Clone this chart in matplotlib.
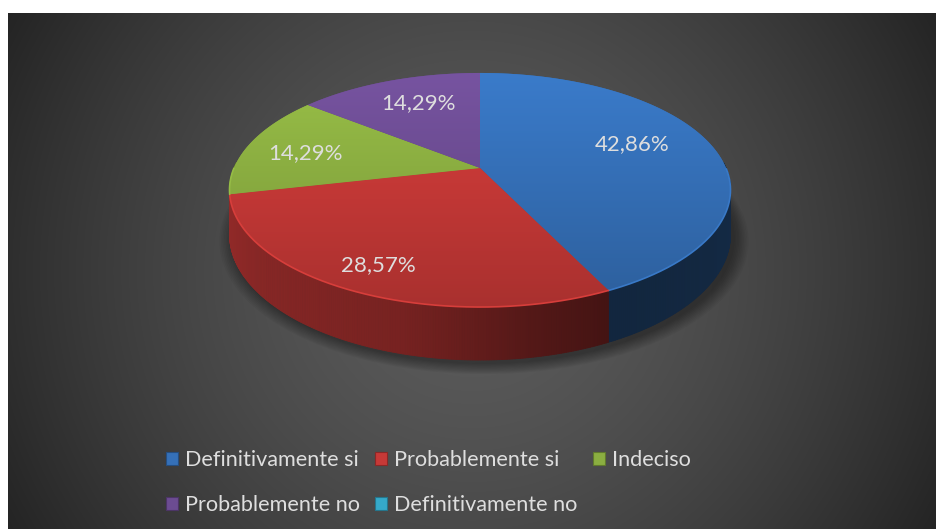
import numpy as np
import matplotlib
matplotlib.use("Agg")
import matplotlib.pyplot as plt
from matplotlib.patches import Polygon, Patch
from matplotlib.collections import PolyCollection
from matplotlib.font_manager import FontProperties

# ---------------- data ----------------
categories = ["Definitivamente si", "Probablemente si", "Indeciso",
              "Probablemente no", "Definitivamente no"]
percentages = [42.86, 28.57, 14.29, 14.29, 0.00]
colors = ["#3570b8", "#c73937", "#8bae41", "#6c4c92", "#35a9c9"]

# ---------------- layout / style ----------------
W, H = 937, 529
CX, CY = 480.0, 168.0          # projected pie centre
RX, RY = 246.0, 112.9          # radii
K = 0.188                      # perspective strength
DEPTH = 43.0                   # pie thickness
label_r = [0.68, 0.82, 0.74, 0.70, 0.7]
label_dtheta = [-6, 0, -2, 2, 0]
TEXT = "#dedede"

fig = plt.figure(figsize=(W / 100, H / 100), dpi=100, facecolor="white")
ax = fig.add_axes([0, 0, 1, 1])
ax.axis("off")

# background radial gradient
x0, x1, y0, y1 = 8, W, 13, H
xx, yy = np.meshgrid(np.arange(x0, x1) + 0.5, np.arange(y0, y1) + 0.5)
bcx, bcy = 472, 271
d = np.hypot(xx - bcx, yy - bcy) / np.hypot(x1 - bcx, y0 - bcy)
t = np.clip(d, 0, 1) ** 1.5
v = (92 - 56 * t) / 255
ax.imshow(np.dstack([v, v, v]), extent=(x0, x1, y1, y0), aspect="auto",
          interpolation="bilinear", zorder=0)


def proj(theta_deg, r=1.0, z=0.0):
    a = np.radians(theta_deg)
    x = r * np.sin(a)
    y = r * np.cos(a)
    s = 1.0 / (1.0 + K * y)
    return CX + RX * x * s, CY - RY * y * s + DEPTH * s * z


def rgb(c):
    return np.array(matplotlib.colors.to_rgb(c))


total = sum(percentages)
bounds = np.concatenate([[0], np.cumsum(percentages)]) / total * 360.0

# soft shadow
for i in range(10):
    th = np.linspace(0, 360, 361)
    px, py = proj(th, 1.0 + 0.006 * i, 1.0)
    ax.add_patch(Polygon(np.column_stack([px + 4, py + 4]), closed=True,
                         facecolor="black", edgecolor="none", alpha=0.04, zorder=1))

# walls
def wall_factor(th):
    return np.interp(th, [90, 154, 170, 195, 250, 280],
                     [0.38, 0.34, 0.42, 0.60, 0.72, 0.75])

quads, qcols, depths = [], [], []
for i, (a0, a1) in enumerate(zip(bounds[:-1], bounds[1:])):
    if a1 - a0 <= 0:
        continue
    n = max(2, int((a1 - a0) / 0.5))
    th = np.linspace(a0, a1, n + 1)
    base = rgb(colors[i])
    for ta, tb in zip(th[:-1], th[1:]):
        tm = 0.5 * (ta + tb)
        if np.cos(np.radians(tm)) > 0.05:
            continue
        ax_, ay_ = proj(ta, 1, 0)
        bx_, by_ = proj(tb, 1, 0)
        cx_, cy_ = proj(tb, 1, 1)
        dx_, dy_ = proj(ta, 1, 1)
        quads.append([(ax_, ay_), (bx_, by_), (cx_, cy_), (dx_, dy_)])
        qcols.append(np.clip(base * wall_factor(tm % 360), 0, 1))
        depths.append(-np.cos(np.radians(tm)))
order = np.argsort(depths)
pc = PolyCollection([quads[j] for j in order], facecolors=[qcols[j] for j in order],
                    edgecolors=[qcols[j] for j in order], linewidths=0.6, zorder=2)
ax.add_collection(pc)

# top faces with vertical gradient
ytop, ybot = CY - RY / (1 + K), CY + RY / (1 - K)
for i, (a0, a1) in enumerate(zip(bounds[:-1], bounds[1:])):
    if a1 - a0 <= 0:
        continue
    th = np.linspace(a0, a1, max(3, int((a1 - a0) * 2)))
    px, py = proj(th, 1, 0)
    pts = np.vstack([[CX, CY], np.column_stack([px, py])])
    base = rgb(colors[i])
    poly = Polygon(pts, closed=True, facecolor=base, edgecolor="none", zorder=3)
    ax.add_patch(poly)
    ys = np.linspace(ytop - 5, ybot + 5, 200)
    f = 1.1 - 0.25 * (ys - ytop) / (ybot - ytop)
    grad = np.clip(base[None, :] * f[:, None], 0, 1)[:, None, :]
    im = ax.imshow(grad, extent=(CX - RX * 1.1, CX + RX * 1.1, ybot + 5, ytop - 5),
                   aspect="auto", interpolation="bilinear", zorder=4)
    im.set_clip_path(poly)
    front = np.cos(np.radians(th)) < 0.0
    if front.any():
        ax.plot(px[front], py[front], color=np.clip(base * 1.08, 0, 1), lw=1.2,
                zorder=5, solid_capstyle="round")

# data labels
lab_font = FontProperties(family=["Lato", "DejaVu Sans"], size=16)
for i, (a0, a1) in enumerate(zip(bounds[:-1], bounds[1:])):
    if percentages[i] <= 0:
        continue
    lx, ly = proj(0.5 * (a0 + a1) + label_dtheta[i], label_r[i], 0)
    txt = f"{percentages[i]:.2f}".replace(".", ",") + "%"
    ax.text(lx, ly, txt, ha="center", va="center", color=TEXT,
            fontproperties=lab_font, zorder=6)

ax.set_xlim(0, W)
ax.set_ylim(H, 0)

# legend (row-wise order in a 3-column legend)
handles = [Patch(facecolor=c, edgecolor=np.clip(rgb(c) * 0.7, 0, 1), linewidth=0.8)
           for c in colors]
idx = [0, 3, 1, 4, 2]
leg_font = FontProperties(family=["Lato", "DejaVu Sans"], size=15.6)
ax.legend([handles[j] for j in idx], [categories[j] for j in idx], ncol=3,
          loc="upper left", bbox_to_anchor=(166, 450), bbox_transform=ax.transData,
          frameon=False, prop=leg_font, labelcolor=TEXT, handlelength=0.55,
          handleheight=0.55, handletextpad=0.32, columnspacing=0.72,
          labelspacing=1.14, borderpad=0, borderaxespad=0)

fig.savefig("out.png", dpi=100, facecolor="white")
